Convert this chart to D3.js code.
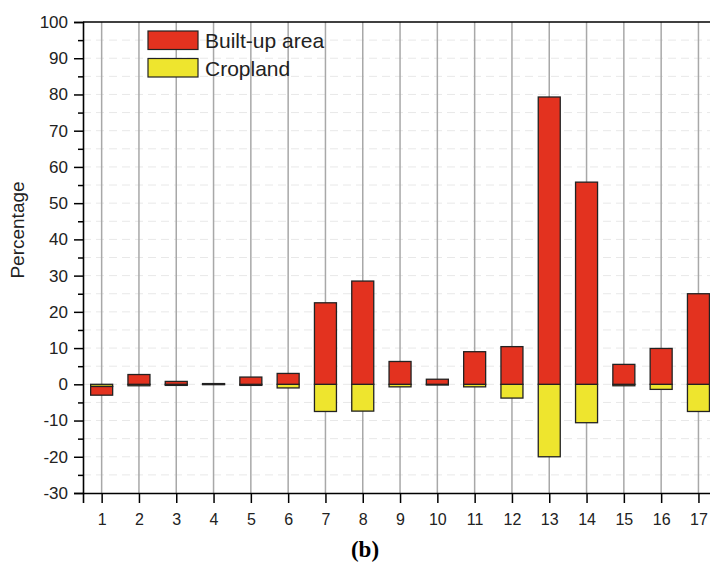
<!DOCTYPE html>
<html>
<head>
<meta charset="utf-8">
<script src="https://d3js.org/d3.v7.min.js"></script>
<style>
  body { margin: 0; background: #fff; }
  text { font-family: "Liberation Sans", Arial, sans-serif; }
</style>
</head>
<body>
<script>
// values
var sites = [1, 2, 3, 4, 5, 6, 7, 8, 9, 10, 11, 12, 13, 14, 15, 16, 17];
var builtUp = [-2.4, 2.7, 0.8, 0.2, 2.0, 3.0, 22.5, 28.5, 6.3, 1.4, 9.0, 10.4, 79.3, 55.8, 5.5, 9.9, 25.0];
var cropland = [-0.6, -0.4, -0.3, -0.1, -0.3, -1.0, -7.5, -7.4, -0.7, -0.2, -0.7, -3.8, -20.0, -10.6, -0.4, -1.4, -7.5];
var yTicks = [-30, -20, -10, 0, 10, 20, 30, 40, 50, 60, 70, 80, 90, 100];
var seriesNames = ["Built-up area", "Cropland"];

var W = 710, H = 563;
var plotLeft = 83, plotTop = 22, plotBottom = 493;
var step = 37.3;

var svg = d3.select("body").append("svg")
    .attr("width", W).attr("height", H);

var x = d3.scaleLinear().domain([0.5, 18.5]).range([plotLeft, plotLeft + 18 * step]);
var y = d3.scaleLinear().domain([-30, 100]).range([plotBottom, plotTop]);

var rows = sites.map(function(s, i) {
    return {site: s, crop: cropland[i], built: builtUp[i]};
});
var stack = d3.stack().keys(["crop", "built"]).offset(d3.stackOffsetDiverging);
var layers = stack(rows);
var fills = {built: "#e3321f", crop: "#eee52e"};

// dashed horizontal grid every 5
svg.append("g").selectAll("line")
    .data(d3.range(-25, 100, 5))
    .enter().append("line")
    .attr("x1", plotLeft).attr("x2", W)
    .attr("y1", function(d){ return y(d); })
    .attr("y2", function(d){ return y(d); })
    .attr("stroke", "#e8e8e8")
    .attr("stroke-width", 1)
    .attr("stroke-dasharray", "8,5");

// vertical grid at each site
svg.append("g").selectAll("line")
    .data(sites)
    .enter().append("line")
    .attr("x1", function(d){ return x(d); })
    .attr("x2", function(d){ return x(d); })
    .attr("y1", plotTop).attr("y2", plotBottom)
    .attr("stroke", "#a8a8a8")
    .attr("stroke-width", 1.5);

var bw = 22;
svg.append("g").selectAll("g")
    .data(layers)
    .enter().append("g")
    .attr("fill", function(d){ return fills[d.key]; })
    .selectAll("rect")
    .data(function(d){ return d; })
    .enter().append("rect")
    .attr("x", function(d){ return x(d.data.site) - bw / 2; })
    .attr("width", bw)
    .attr("y", function(d){ return y(Math.max(d[0], d[1])); })
    .attr("height", function(d){ return Math.abs(y(d[0]) - y(d[1])); })
    .attr("stroke", "#222")
    .attr("stroke-width", 1.3);

// top frame
svg.append("line")
    .attr("x1", plotLeft).attr("x2", W)
    .attr("y1", plotTop).attr("y2", plotTop)
    .attr("stroke", "#000").attr("stroke-width", 1.5);

// y axis
var yAx = svg.append("g")
    .attr("transform", "translate(" + plotLeft + ",0)")
    .call(d3.axisLeft(y).tickValues(yTicks).tickSize(9).tickPadding(6).tickFormat(function(d){ return String(d); }));
svg.append("g")
    .attr("transform", "translate(" + plotLeft + ",0)")
    .call(d3.axisLeft(y).tickValues(d3.range(-25, 100, 10)).tickSize(5).tickFormat(""))
    .select(".domain").remove();

// x axis
var xAx = svg.append("g")
    .attr("transform", "translate(0," + plotBottom + ")")
    .call(d3.axisBottom(x).tickValues(sites).tickSize(10).tickPadding(11).tickFormat(function(d){ return String(d); }));

svg.selectAll(".domain").attr("stroke", "#000").attr("stroke-width", 1.6);
svg.selectAll(".tick line").attr("stroke", "#000").attr("stroke-width", 1.5);
svg.selectAll(".tick text").attr("fill", "#222")
    .style("font-family", "'Liberation Sans', Arial, sans-serif");
yAx.selectAll(".tick text").attr("font-size", 17);
xAx.selectAll(".tick text").attr("font-size", 16);

// y title
svg.append("text")
    .attr("transform", "translate(24,230) rotate(-90)")
    .attr("text-anchor", "middle")
    .attr("font-size", 19)
    .attr("fill", "#222")
    .text("Percentage");

// legend
var legend = svg.append("g").attr("transform", "translate(148,31)");
var legendFill = [fills.built, fills.crop];
legend.selectAll("rect")
    .data(seriesNames)
    .enter().append("rect")
    .attr("x", 0).attr("y", function(d, i){ return i * 27.5; })
    .attr("width", 50).attr("height", 18.5)
    .attr("fill", function(d, i){ return legendFill[i]; })
    .attr("stroke", "#222").attr("stroke-width", 1.2);
legend.selectAll("text")
    .data(seriesNames)
    .enter().append("text")
    .attr("x", 57).attr("y", function(d, i){ return i * 27.5 + 17; })
    .attr("font-size", 21)
    .attr("fill", "#222")
    .text(function(d){ return d; });

// panel label
svg.append("text")
    .attr("x", 365).attr("y", 557)
    .attr("text-anchor", "middle")
    .attr("font-size", 23)
    .attr("font-weight", "bold")
    .style("font-family", "'Liberation Serif', 'Times New Roman', serif")
    .text("(b)");
</script>
</body>
</html>
